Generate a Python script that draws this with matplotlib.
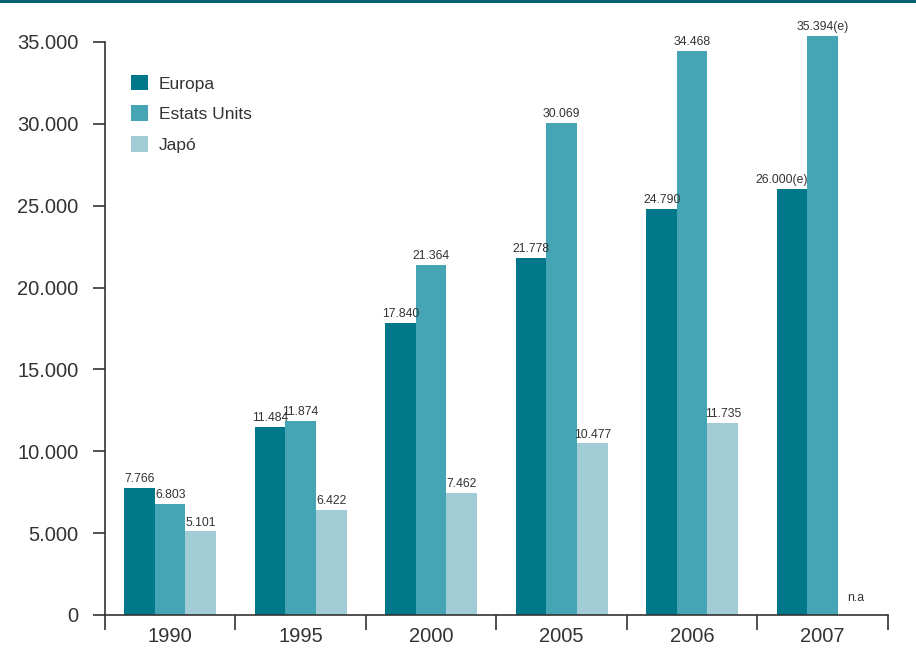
import numpy as np
import matplotlib.pyplot as plt
from matplotlib import patches

plt.rcParams['font.family'] = ['Liberation Sans', 'DejaVu Sans']

years = ['1990', '1995', '2000', '2005', '2006', '2007']
europa = [7766, 11484, 17840, 21778, 24790, 26000]
estats_units = [6803, 11874, 21364, 30069, 34468, 35394]
japo = [5101, 6422, 7462, 10477, 11735, None]

europa_labels = ['7.766', '11.484', '17.840', '21.778', '24.790', '26.000(e)']
estats_labels = ['6.803', '11.874', '21.364', '30.069', '34.468', '35.394(e)']
japo_labels = ['5.101', '6.422', '7.462', '10.477', '11.735', 'n.a']

series_names = ['Europa', 'Estats Units', 'Japó']
colors = ['#00788a', '#45a5b5', '#a2ccd5']
text_color = '#333333'

fig = plt.figure(figsize=(9.16, 6.49), dpi=100)
ax = fig.add_axes([0.1146, 0.0524, 0.8548, 0.9208])

# dark strip along the top edge
fig.add_artist(patches.Rectangle((0, 0.995), 1, 0.005, transform=fig.transFigure,
                                 color='#00636f', lw=0))

x = np.arange(len(years)) + 0.5
w = 0.234
all_series = [europa, estats_units, japo]
all_labels = [europa_labels, estats_labels, japo_labels]

for i, (vals, labs) in enumerate(zip(all_series, all_labels)):
    pos = x + (i - 1) * w
    heights = [v if v is not None else 0 for v in vals]
    ax.bar(pos, heights, width=w, color=colors[i], label=series_names[i],
           clip_on=False, zorder=2)
    for p, v, lab in zip(pos, vals, labs):
        if v is None:
            ax.text(p + 0.02, 700, lab, ha='center', va='bottom', fontsize=8.8,
                    color=text_color)
        elif lab == '26.000(e)':
            ax.text(p + w / 2, v + 180, lab, ha='right', va='bottom', fontsize=8.8,
                    color=text_color)
        else:
            ax.text(p, v + 180, lab, ha='center', va='bottom', fontsize=8.8,
                    color=text_color)

ax.set_xlim(0, len(years))
ax.set_ylim(0, 36500)

for s in ['top', 'right']:
    ax.spines[s].set_visible(False)
ax.spines['left'].set_bounds(0, 35000)
for s in ['left', 'bottom']:
    ax.spines[s].set_color('#333333')
    ax.spines[s].set_linewidth(1.2)

yt = np.arange(0, 35001, 5000)
ax.set_yticks(yt)
ax.set_yticklabels(['0' if v == 0 else f'{v // 1000}.000' for v in yt])
ax.tick_params(axis='y', length=9, width=1.2, color='#333333', labelsize=14.5,
               labelcolor=text_color, pad=10)

ax.set_xticks(np.arange(0, len(years) + 1))
ax.set_xticklabels([])
ax.set_xticks(x, minor=True)
ax.set_xticklabels(years, minor=True)
ax.tick_params(axis='x', which='major', length=11, width=1.2, color='#333333')
ax.tick_params(axis='x', which='minor', length=0, labelsize=14.5,
               labelcolor=text_color, pad=9)

ax.legend(loc='upper left', bbox_to_anchor=(0.013, 0.93), frameon=False,
          fontsize=12.5, handlelength=1.0, handleheight=1.0, handletextpad=0.6,
          labelspacing=0.8, labelcolor=text_color)

fig.savefig('out.png', dpi=100)
